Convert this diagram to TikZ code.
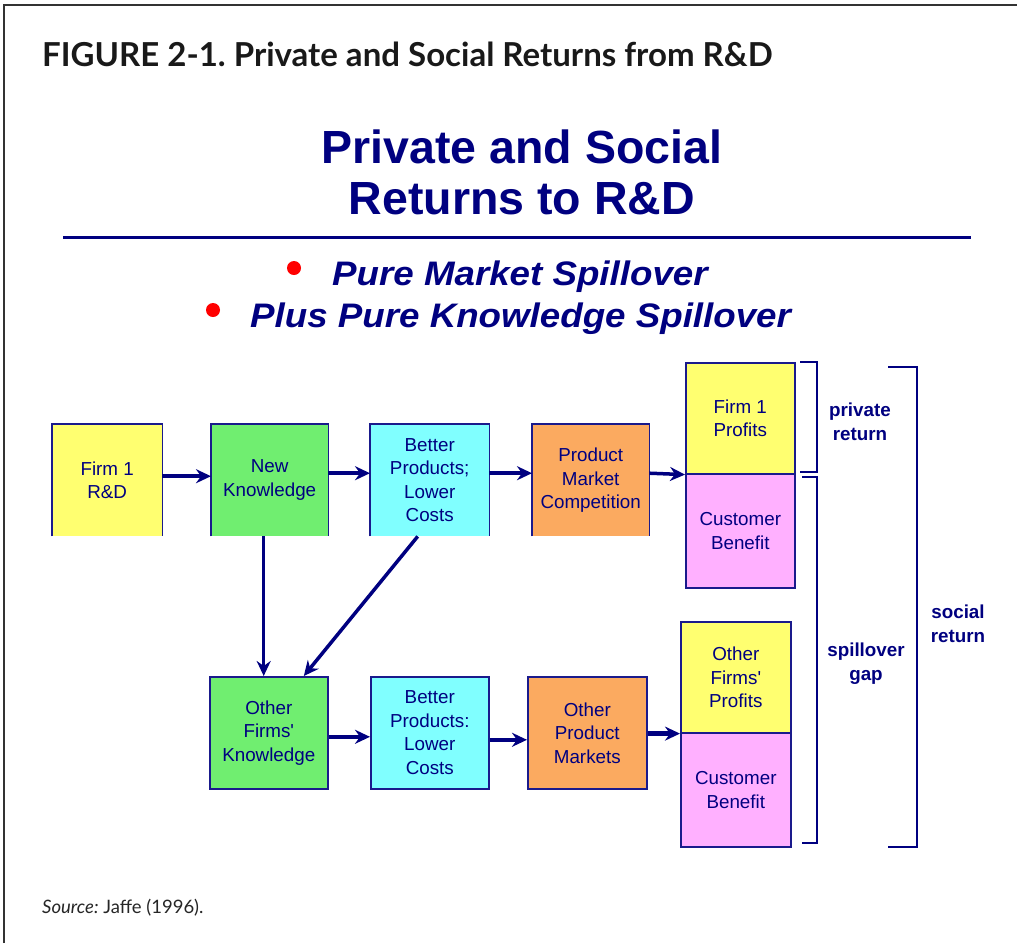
\documentclass[tikz,border=0pt]{standalone}
\usepackage{fontspec}
\setmainfont{Liberation Sans}
\newfontfamily\headfont{Lato}
\newfontfamily\widefont[FakeStretch=1.08]{Liberation Sans}
\usetikzlibrary{arrows.meta}
\definecolor{navy}{HTML}{000080}
\definecolor{bnavy}{HTML}{1A1A8C}
\definecolor{yel}{HTML}{FFFF70}
\definecolor{grn}{HTML}{70EE70}
\definecolor{cyn}{HTML}{80FFFF}
\definecolor{org}{HTML}{FBAA60}
\definecolor{pnk}{HTML}{FFB0FF}
\definecolor{frame}{HTML}{333333}
\tikzset{
  box/.style={anchor=north west, inner sep=0pt, align=center, text=navy,
    font=\fontsize{18.8}{23.5}\selectfont},
  boxd/.style={box, draw=bnavy, line width=1.6pt},
  arr/.style={draw=navy, line width=3.5pt, -{Stealth[length=15pt,width=14pt,inset=5pt]}},
  brk/.style={draw=navy, line width=2.5pt},
  lbl/.style={align=center, text=navy, font=\bfseries\fontsize{18.8}{24}\selectfont},
}
\begin{document}
\frenchspacing
\begin{tikzpicture}[x=1pt,y=-1pt]
\useasboundingbox (0,0) rectangle (1017,943);
\fill[white] (0,0) rectangle (1017,943);
% frame
\draw[frame, line width=2.5pt] (4,943) -- (4,5) -- (1017,5);
% header
\node[anchor=base west, inner sep=0pt, font=\headfont\bfseries\fontsize{33}{38}\selectfont, text=black!90] (hdr) at (42,66) {\frenchspacing FIGURE 2-1. Private and Social Returns from R\&D};
\node[anchor=base west, inner sep=0pt, font=\headfont\fontsize{18.5}{22}\selectfont, text=black!85] (src) at (42,913) {\frenchspacing\textit{Source:} Jaffe (1996).};
% slide title
\node[anchor=base, inner sep=0pt, text=navy, font=\bfseries\fontsize{46.5}{51}\selectfont] (t1) at (522,163) {Private and Social};
\node[anchor=base, inner sep=0pt, text=navy, font=\bfseries\fontsize{46.5}{51}\selectfont] (t2) at (522,214) {Returns to R\&D};
\draw[navy, line width=3pt] (63,237) -- (971,237);
% bullets
\fill[red] (294,268) circle (7);
\fill[red] (213,310) circle (7);
\node[anchor=base west, inner sep=0pt, text=navy, font=\widefont\bfseries\itshape\fontsize{34}{38}\selectfont] (b1) at (332,285) {Pure Market Spillover};
\node[anchor=base west, inner sep=0pt, text=navy, font=\widefont\bfseries\itshape\fontsize{34}{38}\selectfont] (b2) at (250,327) {Plus Pure Knowledge Spillover};
% top row (no bottom border)
\node[box, fill=yel, minimum width=110pt, minimum height=112pt] (firm) at (52,424) {Firm 1\\R\&D};
\node[box, fill=grn, minimum width=117pt, minimum height=112pt] (newk) at (211,424) {New\\Knowledge};
\node[box, fill=cyn, minimum width=119pt, minimum height=112pt] (bet) at (370,424) {Better\\Products;\\Lower\\Costs};
\node[box, fill=org, minimum width=117pt, minimum height=112pt] (prod) at (532,424) {Product\\Market\\Competition};
\foreach \n in {firm,newk,bet,prod}
  \draw[bnavy, line width=1.6pt] (\n.south west) -- (\n.north west) -- (\n.north east) -- (\n.south east);
% stacked top
\node[boxd, fill=yel, minimum width=109pt, minimum height=111pt] (prof) at (685,362) {Firm 1\\Profits};
\node[boxd, fill=pnk, minimum width=109pt, minimum height=114pt] (cb1) at (685,473) {Customer\\Benefit};
% bottom row
\node[boxd, fill=grn, minimum width=118pt, minimum height=112pt] (ofk) at (209,676) {Other\\Firms\textquotesingle\\Knowledge};
\node[boxd, fill=cyn, minimum width=118pt, minimum height=112pt] (bet2) at (370,676) {Better\\Products:\\Lower\\Costs};
\node[boxd, fill=org, minimum width=119pt, minimum height=112pt] (opm) at (527,676) {Other\\Product\\Markets};
\node[boxd, fill=yel, minimum width=110pt, minimum height=111pt] (oprof) at (680,621) {Other\\Firms\textquotesingle\\Profits};
\node[boxd, fill=pnk, minimum width=110pt, minimum height=114pt] (cb2) at (680,732) {Customer\\Benefit};
% arrows
\draw[arr] ([yshift=4pt]firm.east) -- ([yshift=4pt]newk.west);
\draw[arr] ([yshift=7pt]newk.east) -- ([yshift=7pt]bet.west);
\draw[arr] ([yshift=7pt]bet.east) -- ([yshift=7pt]prod.west);
\draw[arr] ([yshift=7pt]prod.east) -- (prof.south west);
\draw[arr] ([xshift=-6pt]newk.south) -- ([xshift=-6pt]newk.south |- ofk.north);
\draw[arr] ([xshift=-12pt]bet.south) -- ([xshift=35pt]ofk.north);
\draw[arr] ([yshift=-4pt]ofk.east) -- ([yshift=-4pt]ofk.east -| bet2.west);
\draw[arr] ([yshift=-7pt]bet2.east) -- ([yshift=-7pt]bet2.east -| opm.west);
\draw[arr, line width=5pt] (opm.east |- oprof.south west) -- (oprof.south west);
% brackets
\draw[brk] (800,362) -- (817,362) -- (817,472) -- (800,472);
\draw[brk] (802,477) -- (817,477) -- (817,843) -- (802,843);
\draw[brk] (888,367) -- (917,367) -- (917,847) -- (888,847);
\node[lbl] (lp) at (860,422) {private\\return};
\node[lbl] (ls) at (866,664) {spillover\\gap};
\node[lbl] (lsoc) at (958,624) {social\\return};
\end{tikzpicture}
\end{document}
